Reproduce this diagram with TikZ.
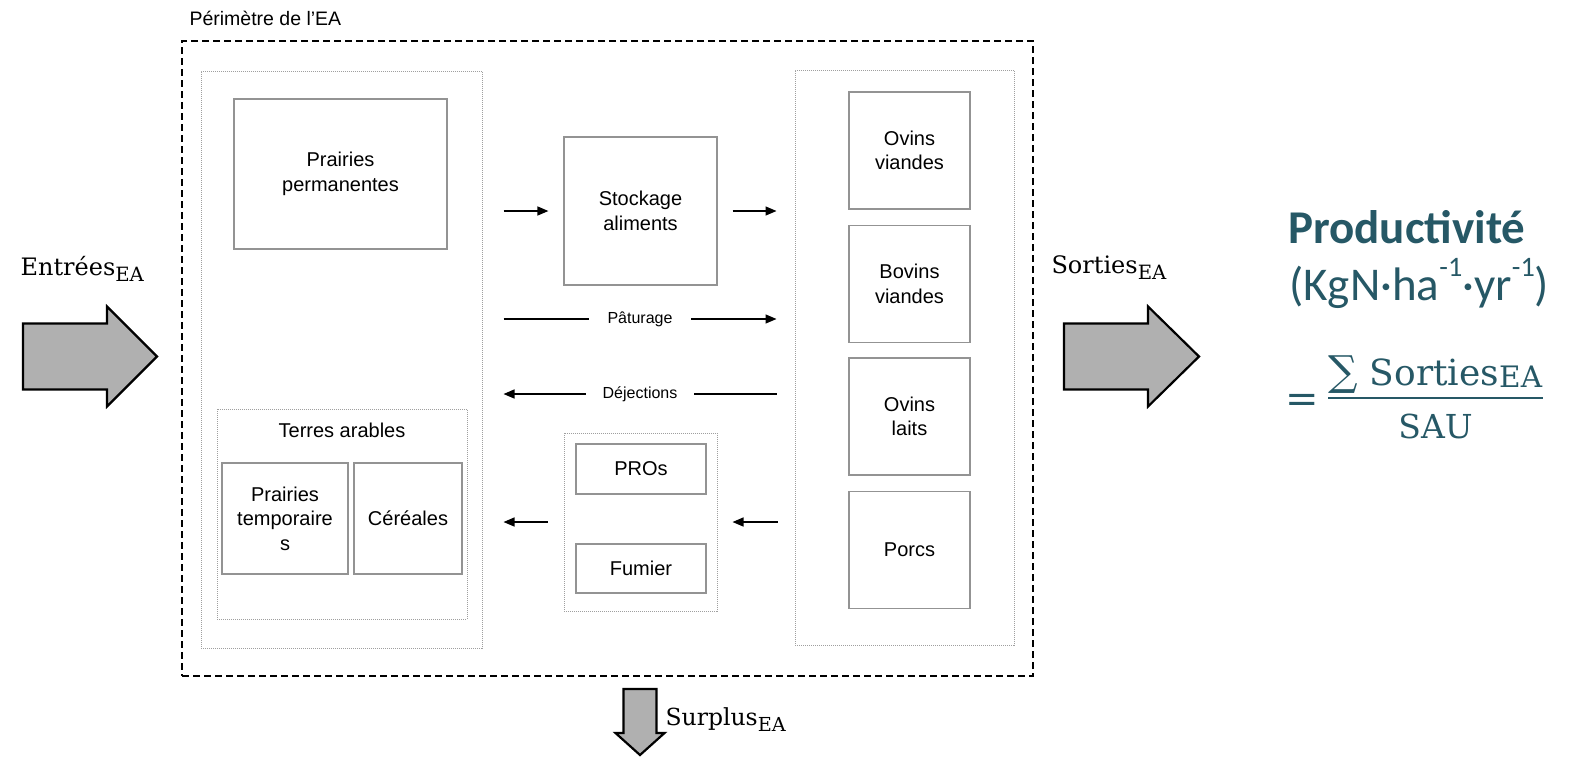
\documentclass[tikz,border=0pt]{standalone}
\usepackage{fontspec}
\setmainfont{Liberation Sans}
\newfontfamily\cambria{DejaVu Serif}
\newfontfamily\calibri{Carlito}
\usetikzlibrary{arrows.meta,calc,positioning}

\definecolor{teal}{RGB}{38,88,102}
\newcommand{\boxfont}{\fontsize{20}{24.5}\selectfont}
\newcommand{\flowfont}{\fontsize{16}{19}\selectfont}
\newcommand{\subEA}[1][0.27em]{\raisebox{-#1}{\scalebox{0.82}{EA}}}
\newcommand{\expm}{\raisebox{0.5em}{\scalebox{0.6}{-1}}}

\begin{document}
\begin{tikzpicture}[x=1pt,y=-1pt,
    box/.style={draw=gray!85,line width=1.2pt,align=center,font=\boxfont,inner sep=0pt},
    zone/.style={draw=gray!75,line width=1pt,dash pattern=on 1pt off 1pt,inner sep=0pt},
    flow/.style={line width=1.4pt,-{Triangle[length=11pt,width=9pt]}},
    bigarrow/.style={draw=black,line width=2.2pt,fill=gray!62,line join=miter},
    eqtext/.style={inner sep=0pt,text=teal}]
    \useasboundingbox (0,0) rectangle (1586,756);

    % perimetre de l'exploitation
    \node[draw,dashed,dash pattern=on 7pt off 4pt,line width=1.2pt,minimum width=851pt,minimum height=635pt] (ea) at (607.5,358.5) {};
    \node[anchor=base west,font=\fontsize{19.5}{22}\selectfont] (eatitle) at (186,25) {Périmètre de l’EA};

    % surfaces
    \node[zone,minimum width=281pt,minimum height=577pt] (sol) at (341.5,359.5) {};
    \node[box,minimum width=213pt,minimum height=150pt] (pperm) at (340.5,174) {Prairies\\permanentes};
    \node[zone,minimum width=250pt,minimum height=210pt] (terres) at (342,514) {};
    \node[anchor=base,font=\boxfont] (terrestitle) at (342,437) {Terres arables};
    \node[box,minimum width=126pt,minimum height=111pt] (ptemp) at (285,518.5) {Prairies\\temporaire\\s};
    \node[box,minimum width=108pt,minimum height=111pt] (cereales) at (408,518.5) {Céréales};

    % stockage et effluents
    \node[box,minimum width=153pt,minimum height=148pt] (stock) at (640.5,211) {Stockage\\aliments};
    \node[zone,minimum width=153pt,minimum height=178pt] (pro) at (640.5,522) {};
    \node[box,minimum width=130pt,minimum height=50pt] (pros) at (641,469) {PROs};
    \node[box,minimum width=130pt,minimum height=49pt] (fumier) at (641,568.5) {Fumier};

    % elevages
    \node[zone,minimum width=219pt,minimum height=575pt] (elev) at (904.5,357.5) {};
    \node[box,minimum width=121pt,minimum height=117pt] (ovv) at (909.5,150.5) {Ovins\\viandes};
    \node[box,minimum width=121pt,minimum height=117pt] (bov) at (909.5,284) {Bovins\\viandes};
    \node[box,minimum width=121pt,minimum height=117pt] (ovl) at (909.5,416.5) {Ovins\\laits};
    \node[box,minimum width=121pt,minimum height=117pt] (porcs) at (909.5,550) {Porcs};

    % flux internes
    \coordinate (pat) at (640,319);
    \coordinate (dej) at (640,394);
    \draw[flow] ($(sol.east |- stock)+(21,0)$) -- ($(stock.west)+(-15,0)$);
    \draw[flow] ($(stock.east)+(15,0)$) -- ($(elev.west |- stock)+(-18,0)$);
    \draw[flow] ($(sol.east |- pat)+(21,0)$) -- node[fill=white,inner xsep=19pt,font=\flowfont] (paturage) {Pâturage} ($(elev.west |- pat)+(-18,0)$);
    \draw[flow] ($(elev.west |- dej)+(-18,0)$) -- node[fill=white,inner xsep=17pt,font=\flowfont] (dejections) {Déjections} ($(sol.east |- dej)+(21,0)$);
    \draw[flow] ($(elev.west |- pro)+(-17,0)$) -- ($(pro.east)+(15,0)$);
    \draw[flow] ($(pro.west)+(-16,0)$) -- ($(sol.east |- pro)+(21,0)$);

    % entrees, sorties, surplus
    \draw[bigarrow,shift={(23,356.5)}] (0,-33) -- (84,-33) -- (84,-50) -- (134,0) -- (84,50) -- (84,33) -- (0,33) -- cycle;
    \draw[bigarrow,shift={(1064,356.5)}] (0,-33) -- (84,-33) -- (84,-50) -- (135,0) -- (84,50) -- (84,33) -- (0,33) -- cycle;
    \draw[bigarrow,shift={(640,689)}] (-16.5,0) -- (16.5,0) -- (16.5,44) -- (24.5,44) -- (0,66) -- (-24.5,44) -- (-16.5,44) -- cycle;
    \node[anchor=base west,font=\cambria\fontsize{24}{27}\selectfont] (entrees) at (17,275) {Entrées\subEA};
    \node[anchor=base west,font=\cambria\fontsize{24}{27}\selectfont] (sorties) at (1048,273) {Sorties\subEA};
    \node[anchor=base west,font=\cambria\fontsize{23.5}{27}\selectfont] (surplus) at (662,725) {Surplus\subEA};

    % indicateur
    \node[eqtext,anchor=base west,font=\calibri\bfseries\fontsize{47}{52}\selectfont] (prod) at (1288,243) {Productivité};
    \node[eqtext,anchor=base west,font=\calibri\fontsize{47}{52}\selectfont] (unit) at (1289,300) {(KgN·ha\expm·yr\expm)};
    \node[eqtext,font=\cambria\fontsize{40}{44}\selectfont] (egal) at (1302,403) {=};
    \node[eqtext,anchor=base,font=\cambria\fontsize{36}{40}\selectfont] (num) at (1435.5,385) {\scalebox{1.15}{∑} Sorties\subEA[0.08em]};
    \node[eqtext,anchor=base,font=\cambria\fontsize{33}{38}\selectfont] (den) at (1435.5,438) {SAU};
    \draw[teal,line width=2.8pt] (1328,398) -- (1543,398);
\end{tikzpicture}
\end{document}
